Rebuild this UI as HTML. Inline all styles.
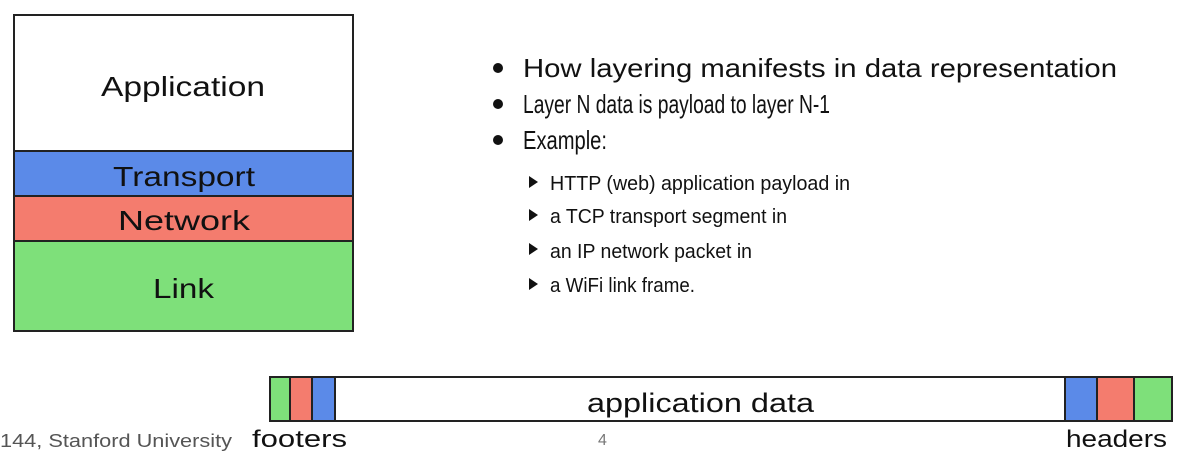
<!DOCTYPE html>
<html><head><meta charset="utf-8"><style>
html,body{margin:0;padding:0;background:#fff;}
svg{display:block;}
text{font-family:"Liberation Sans",sans-serif;fill:#111;}
</style></head><body>
<svg width="1182" height="455" viewBox="0 0 1182 455" xmlns="http://www.w3.org/2000/svg">
<!-- layer stack -->
<rect x="14" y="15" width="339" height="136" fill="#fff"/>
<rect x="14" y="151" width="339" height="45" fill="#5b8ae8"/>
<rect x="14" y="196" width="339" height="45" fill="#f47c6e"/>
<rect x="14" y="241" width="339" height="90" fill="#7ee07a"/>
<g stroke="#222" stroke-width="2" fill="none">
<rect x="14" y="15" width="339" height="316"/>
<line x1="14" y1="151" x2="353" y2="151"/>
<line x1="14" y1="196" x2="353" y2="196"/>
<line x1="14" y1="241" x2="353" y2="241"/>
</g>
<text x="101" y="96" font-size="28" textLength="164" lengthAdjust="spacingAndGlyphs">Application</text>
<text x="113" y="186" font-size="28" textLength="142" lengthAdjust="spacingAndGlyphs">Transport</text>
<text x="118" y="230" font-size="28" textLength="132" lengthAdjust="spacingAndGlyphs">Network</text>
<text x="153" y="298" font-size="28" textLength="61" lengthAdjust="spacingAndGlyphs">Link</text>

<!-- bullets -->
<circle cx="498" cy="68" r="5" fill="#111"/>
<circle cx="498" cy="104" r="5" fill="#111"/>
<circle cx="498" cy="140" r="5" fill="#111"/>
<text x="523" y="77" font-size="26" textLength="594" lengthAdjust="spacingAndGlyphs">How layering manifests in data representation</text>
<text x="523" y="113" font-size="26" textLength="307" lengthAdjust="spacingAndGlyphs">Layer N data is payload to layer N-1</text>
<text x="523" y="149" font-size="26" textLength="84" lengthAdjust="spacingAndGlyphs">Example:</text>
<g fill="#111">
<polygon points="529,176 529,188 538,182"/>
<polygon points="529,209 529,221 538,215"/>
<polygon points="529,243 529,255 538,249"/>
<polygon points="529,278 529,290 538,284"/>
</g>
<text x="550" y="190" font-size="20" textLength="300" lengthAdjust="spacingAndGlyphs">HTTP (web) application payload in</text>
<text x="550" y="223" font-size="20" textLength="237" lengthAdjust="spacingAndGlyphs">a TCP transport segment in</text>
<text x="550" y="258" font-size="20" textLength="202" lengthAdjust="spacingAndGlyphs">an IP network packet in</text>
<text x="550" y="292" font-size="20" textLength="145" lengthAdjust="spacingAndGlyphs">a WiFi link frame.</text>

<!-- packet -->
<rect x="270" y="377" width="902" height="44" fill="#fff"/>
<rect x="270" y="377" width="20" height="44" fill="#7ee07a"/>
<rect x="290" y="377" width="22" height="44" fill="#f47c6e"/>
<rect x="312" y="377" width="23" height="44" fill="#5b8ae8"/>
<rect x="1065" y="377" width="32" height="44" fill="#5b8ae8"/>
<rect x="1097" y="377" width="37" height="44" fill="#f47c6e"/>
<rect x="1134" y="377" width="38" height="44" fill="#7ee07a"/>
<g stroke="#222" stroke-width="2" fill="none">
<rect x="270" y="377" width="902" height="44"/>
<line x1="290" y1="377" x2="290" y2="421"/>
<line x1="312" y1="377" x2="312" y2="421"/>
<line x1="335" y1="377" x2="335" y2="421"/>
<line x1="1065" y1="377" x2="1065" y2="421"/>
<line x1="1097" y1="377" x2="1097" y2="421"/>
<line x1="1134" y1="377" x2="1134" y2="421"/>
</g>
<text x="587" y="412" font-size="27" textLength="227" lengthAdjust="spacingAndGlyphs">application data</text>
<text x="252" y="447" font-size="24" textLength="95" lengthAdjust="spacingAndGlyphs">footers</text>
<text x="1066" y="447" font-size="24" textLength="101" lengthAdjust="spacingAndGlyphs">headers</text>
<text x="0" y="447" font-size="18" style="fill:#555" textLength="232" lengthAdjust="spacingAndGlyphs">144, Stanford University</text>
<text x="598" y="445" font-size="16" style="fill:#777">4</text>
</svg>
</body></html>
